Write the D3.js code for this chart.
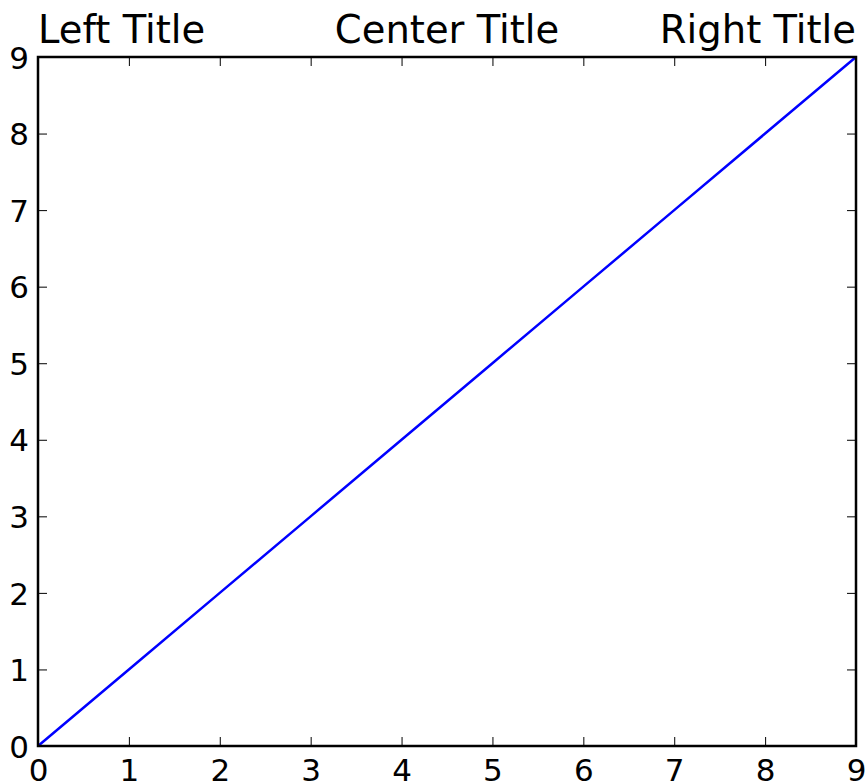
<!DOCTYPE html>
<html>
<head>
<meta charset="utf-8">
<script src="https://cdn.jsdelivr.net/npm/d3@7"></script>
<style>
  body { margin: 0; background: #fff; }
  svg { display: block; }
  svg text { font-family: "DejaVu Sans", sans-serif; }
</style>
</head>
<body>
<div id="chart"></div>
<script>
// data
var xValues = [0, 1, 2, 3, 4, 5, 6, 7, 8, 9];
var yValues = [0, 1, 2, 3, 4, 5, 6, 7, 8, 9];
var tickValues = [0, 1, 2, 3, 4, 5, 6, 7, 8, 9];
var titles = ["Left Title", "Center Title", "Right Title"];

// settings
var margin = {top: 57, right: 12, bottom: 38, left: 38},
    width = 868 - margin.left - margin.right,
    height = 784 - margin.top - margin.bottom;

var svg = d3.select("#chart")
    .append("svg")
    .attr("width", 868)
    .attr("height", 784)
    .append("g")
    .attr("transform", "translate(" + margin.left + "," + margin.top + ")");

var x = d3.scaleLinear().domain([0, 9]).range([0, width]);
var y = d3.scaleLinear().domain([0, 9]).range([height, 0]);

var tickLen = 9;

// inward ticks on all four sides
function styleAxis(g) {
  g.attr("font-family", "DejaVu Sans, sans-serif");
  g.select(".domain").remove();
  g.selectAll(".tick line").attr("stroke", "#000").attr("stroke-width", 1);
  g.selectAll(".tick text").attr("fill", "#000").style("font-size", "31px");
}

svg.append("g")
  .attr("transform", "translate(0," + height + ")")
  .call(d3.axisBottom(x).tickValues(tickValues).tickSizeInner(-tickLen).tickSizeOuter(0).tickPadding(0))
  .call(styleAxis)
  .call(function(g) {
    g.selectAll(".tick text").attr("y", 35).attr("dy", null);
  });

svg.append("g")
  .call(d3.axisTop(x).tickValues(tickValues).tickSizeInner(-tickLen).tickSizeOuter(0))
  .call(styleAxis)
  .call(function(g) { g.selectAll(".tick text").remove(); });

svg.append("g")
  .call(d3.axisLeft(y).tickValues(tickValues).tickSizeInner(-tickLen).tickSizeOuter(0))
  .call(styleAxis)
  .call(function(g) {
    g.selectAll(".tick text").attr("x", -9).attr("dy", "0.36em");
  });

svg.append("g")
  .attr("transform", "translate(" + width + ",0)")
  .call(d3.axisRight(y).tickValues(tickValues).tickSizeInner(-tickLen).tickSizeOuter(0))
  .call(styleAxis)
  .call(function(g) { g.selectAll(".tick text").remove(); });

// line
var line = d3.line()
  .x(function(d, i) { return x(xValues[i]); })
  .y(function(d) { return y(d); });

svg.append("path")
  .datum(yValues)
  .attr("fill", "none")
  .attr("stroke", "#0000ff")
  .attr("stroke-width", 2.5)
  .attr("d", line);

// frame
svg.append("rect")
  .attr("width", width)
  .attr("height", height)
  .attr("fill", "none")
  .attr("stroke", "#000")
  .attr("stroke-width", 2.5);

// titles
var anchors = ["start", "middle", "end"];
var titleX = [0, width / 2, width];
titles.forEach(function(t, i) {
  svg.append("text")
    .attr("x", titleX[i])
    .attr("y", -14)
    .attr("text-anchor", anchors[i])
    .style("font-size", "38.5px")
    .attr("fill", "#000")
    .text(t);
});
</script>
</body>
</html>
